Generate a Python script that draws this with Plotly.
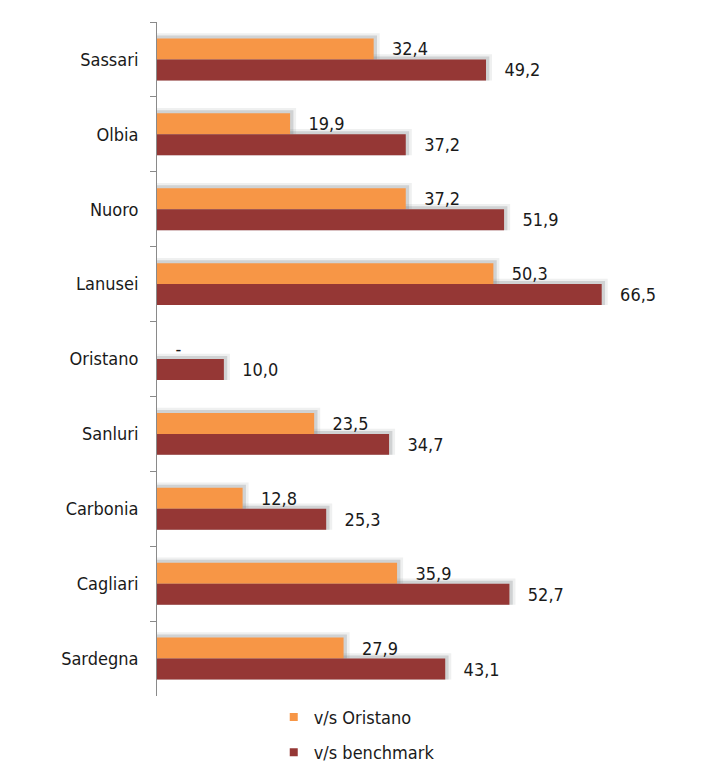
import plotly.graph_objects as go

categories = ["Sassari", "Olbia", "Nuoro", "Lanusei", "Oristano",
              "Sanluri", "Carbonia", "Cagliari", "Sardegna"]
vs_oristano = [32.4, 19.9, 37.2, 50.3, 0.0, 23.5, 12.8, 35.9, 27.9]
vs_benchmark = [49.2, 37.2, 51.9, 66.5, 10.0, 34.7, 25.3, 52.7, 43.1]
series_names = ["v/s Oristano", "v/s benchmark"]

ORANGE = "#F79646"
RED = "#953735"
FONT = "DejaVu Sans Condensed, DejaVu Sans"
FS = 18
PAD = "\u00a0\u00a0\u00a0"

def fmt(v):
    return PAD + ("-" if v == 0 else f"{v:.1f}".replace(".", ","))

BW = 0.28  # bar thickness in category units
fig = go.Figure()

# soft shadows (drawn first)
for vals, off in ((vs_oristano, -BW), (vs_benchmark, 0.0)):
    for ext, shift, alpha in ((0.9, 0.07, 0.10), (0.5, 0.04, 0.22)):
        fig.add_trace(go.Bar(
            y=categories,
            x=[v + ext if v > 0 else None for v in vals],
            orientation="h",
            width=BW + shift,
            offset=off - shift,
            marker=dict(color=f"rgba(100,105,110,{alpha})", line=dict(width=0)),
            showlegend=False, hoverinfo="skip",
        ))

for vals, name, color, off in ((vs_oristano, series_names[0], ORANGE, -BW),
                               (vs_benchmark, series_names[1], RED, 0.0)):
    fig.add_trace(go.Bar(
        y=categories, x=vals, orientation="h", name=name,
        width=BW, offset=off,
        marker=dict(color=color, line=dict(width=0)),
        text=[fmt(v) for v in vals], textposition="outside",
        textfont=dict(family=FONT, size=FS, color="#1a1a1a"),
        cliponaxis=False, showlegend=False,
    ))

# legend entries (small square markers)
for name, color in zip(series_names, (ORANGE, RED)):
    fig.add_trace(go.Scatter(
        x=[None], y=[None], mode="markers", name=name,
        marker=dict(symbol="square", size=8, color=color),
        legendgroup=name,
    ))

fig.update_layout(
    width=723, height=784,
    margin=dict(l=157, r=23, t=22, b=88, autoexpand=False),
    barmode="overlay",
    plot_bgcolor="white", paper_bgcolor="white",
    font=dict(family=FONT, size=FS, color="#1a1a1a"),
    xaxis=dict(range=[0, 81.2], visible=False, showgrid=False,
               zeroline=False, automargin=False),
    yaxis=dict(autorange="reversed", showline=True, linecolor="#8a8a8a",
               linewidth=1, ticks="outside", tickson="boundaries",
               ticklen=6, tickcolor="#8a8a8a", showgrid=False,
               ticklabelstandoff=14, tickfont=dict(size=FS),
               automargin=False),
    legend=dict(orientation="v", x=0.215, xanchor="left", y=-0.004,
                yanchor="top", tracegroupgap=9, font=dict(size=FS),
                itemwidth=30, bgcolor="rgba(0,0,0,0)"),
    showlegend=True,
)

fig.write_html("out.html", config={"displayModeBar": False},
               post_script="document.body.style.margin='0';")
